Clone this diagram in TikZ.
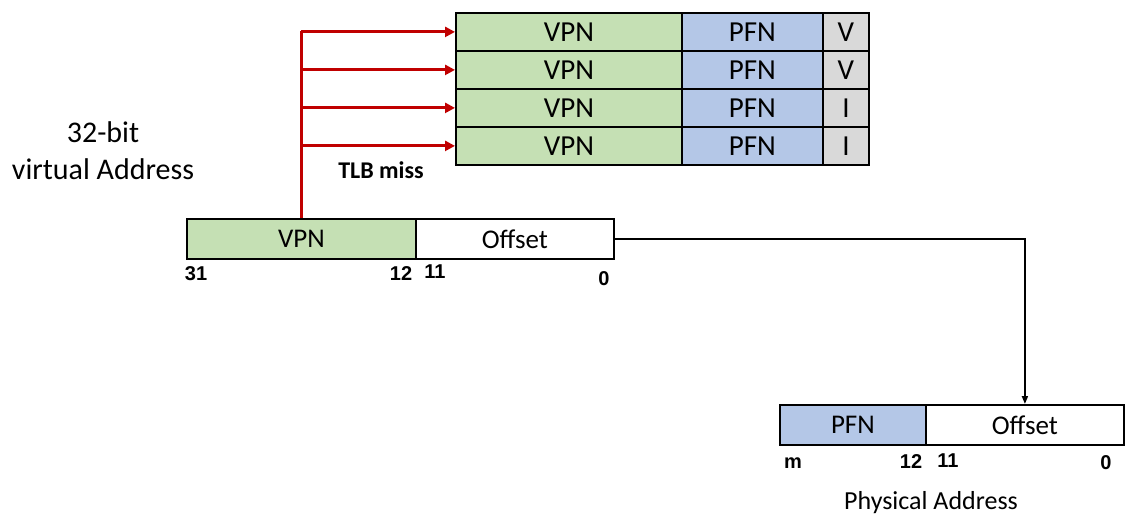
\documentclass[tikz,border=0pt]{standalone}
\usepackage{fontspec}
\setmainfont{Carlito}
\newfontfamily\numfont{Liberation Sans}
\usetikzlibrary{arrows.meta}
\definecolor{vgreen}{HTML}{C5E0B4}
\definecolor{pblue}{HTML}{B4C7E7}
\definecolor{vgray}{HTML}{D9D9D9}
\definecolor{tlbred}{HTML}{C00000}
\begin{document}
\begin{tikzpicture}[x=1pt,y=-1pt,
  cell/.style={draw=black,line width=1.8pt,inner sep=0pt,anchor=north west,minimum height=38pt,
    font=\fontsize{29}{32}\selectfont},
  acell/.style={draw=black,line width=1.8pt,inner sep=0pt,anchor=north west,minimum height=40pt,
    font=\fontsize{27}{30}\selectfont},
  bitnum/.style={font=\numfont\bfseries\fontsize{20}{22}\selectfont,inner sep=0pt},
  redline/.style={draw=tlbred,line width=3pt},
  redarrow/.style={draw=tlbred,line width=3pt,-{Triangle[length=10pt,width=10pt]}},
  blkarrow/.style={draw=black,line width=1.8pt,-{Triangle[length=8pt,width=6pt]}},
  lbl/.style={inner sep=0pt,align=center}
]
\useasboundingbox (0,0) rectangle (1142,518);
% TLB
\foreach \i/\y/\f in {1/12/V,2/50/V,3/88/I,4/126/I}{
  \node[cell,fill=vgreen,minimum width=226pt] (r\i) at (455,\y) {VPN};
  \node[cell,fill=pblue,minimum width=141pt] (p\i) at (681,\y) {PFN};
  \node[cell,fill=vgray,minimum width=46pt] (f\i) at (822,\y) {\f};
}
% virtual address
\node[acell,fill=vgreen,minimum width=229pt] (vvpn) at (186,218) {VPN};
\node[acell,fill=white,minimum width=198pt] (voff) at (415,218) {Offset};
% physical address
\node[acell,fill=pblue,minimum width=146pt] (ppfn) at (779,404) {PFN};
\node[acell,fill=white,minimum width=198pt] (poff) at (925,404) {Offset};
% bit numbers
\node[bitnum] (n31) at (196,274) {31};
\node[bitnum] (n12) at (401,274) {12};
\node[bitnum] (n11) at (435,272) {11};
\node[bitnum] (n0) at (604,279) {0};
\node[bitnum] (m) at (793,463) {m};
\node[bitnum] (pn12) at (911,462) {12};
\node[bitnum] (pn11) at (948,461) {11};
\node[bitnum] (pn0) at (1106,463) {0};
% labels
\node[lbl,font=\fontsize{30}{37}\selectfont] (va) at (103,151) {32-bit\\virtual Address};
\node[lbl,font=\fontsize{26}{30}\selectfont] (pa) at (931,503) {Physical Address};
\node[lbl,font=\bfseries\fontsize{24}{28}\selectfont] (miss) at (381,170) {TLB miss};
% connectors
\coordinate (trunk) at (301,31);
\draw[redline] (vvpn.north -| trunk) -- (trunk);
\foreach \i in {1,2,3,4}{
  \draw[redarrow] (trunk |- r\i.west) -- (r\i.west);
}
\draw[blkarrow] (voff.east) -| (poff.north);
\end{tikzpicture}
\end{document}
